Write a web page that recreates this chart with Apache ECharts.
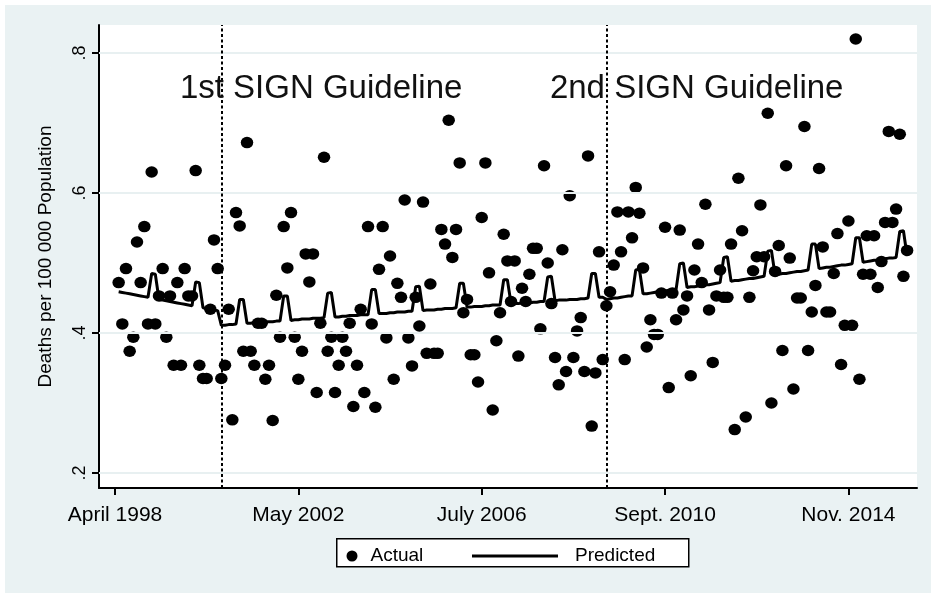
<!DOCTYPE html>
<html>
<head>
<meta charset="utf-8">
<script src="https://cdn.jsdelivr.net/npm/echarts@6/dist/echarts.min.js"></script>
<style>
  html, body { margin: 0; padding: 0; background: #ffffff; }
  #frame { position: absolute; left: 0; top: 0; width: 936px; height: 598px; background: #ffffff; }
  #chart { position: absolute; left: 5px; top: 5px; width: 926px; height: 588px; }
</style>
</head>
<body>
<div id="frame"><div id="chart"></div></div>
<script>
// Monthly suicide-death rate (deaths per 100 000), months numbered from 1
const actual = [
  .472,.413,.492,.374,.394,.530,.472,.552,.413,.630,
  .413,.453,.492,.394,.453,.354,.472,.354,.492,.453,
  .453,.632,.354,.335,.335,.434,.533,.492,.335,.354,
  .434,.276,.572,.553,.374,.672,.374,.354,.414,.414,
  .334,.354,.275,.454,.394,.552,.493,.572,.394,.334,
  .374,.513,.473,.513,.315,.414,.651,.374,.394,.315,
  .354,.394,.374,.414,.295,.354,.434,.315,.552,.413,
  .294,.491,.552,.393,.510,.334,.471,.451,.590,.393,
  .353,.451,.410,.587,.371,.470,.371,.371,.548,.527,
  .704,.508,.548,.643,.429,.448,.369,.369,.330,.565,
  .643,.486,.290,.389,.429,.541,.503,.445,.503,.367,
  .464,.445,.484,.521,.521,.406,.639,.500,.442,.365,
  .326,.519,.345,.596,.365,.403,.422,.345,.653,.267,
  .343,.516,.362,.439,.459,.497,.573,.516,.362,.573,
  .536,.608,.571,.493,.380,.419,.398,.398,.457,.551,
  .322,.457,.419,.547,.433,.453,.339,.490,.527,.472,
  .584,.433,.358,.453,.490,.451,.451,.527,.262,.621,
  .546,.280,.451,.489,.509,.583,.509,.714,.300,.488,
  .525,.375,.639,.507,.320,.450,.450,.695,.375,.430,
  .468,.635,.523,.430,.430,.485,.542,.355,.411,.560,
  .411,.820,.334,.484,.539,.484,.539,.465,.502,.558,
  .688,.558,.577,.684,.481,.518
];

// Model fit for the same months
const predicted = [
  .459,.458,.457,.456,.455,.454,.453,.452,.451,.485,
  .484,.448,.447,.446,.445,.444,.443,.442,.441,.440,
  .439,.473,.472,.436,.435,.434,.433,.432,.411,.411,
  .412,.412,.413,.448,.448,.414,.414,.415,.415,.415,
  .416,.416,.416,.417,.417,.453,.453,.418,.419,.419,
  .420,.420,.420,.421,.421,.421,.422,.457,.458,.423,
  .423,.424,.424,.425,.425,.425,.426,.426,.426,.462,
  .462,.428,.428,.428,.429,.429,.430,.430,.430,.431,
  .431,.466,.467,.432,.433,.433,.433,.434,.434,.435,
  .435,.435,.436,.471,.471,.437,.437,.438,.438,.438,
  .439,.439,.440,.440,.440,.476,.476,.442,.442,.442,
  .443,.443,.443,.444,.444,.445,.445,.480,.481,.446,
  .447,.447,.447,.448,.448,.448,.449,.449,.450,.485,
  .485,.451,.451,.448,.449,.450,.450,.451,.452,.453,
  .453,.490,.491,.456,.456,.457,.458,.459,.459,.460,
  .461,.462,.462,.499,.500,.465,.466,.466,.467,.468,
  .469,.469,.470,.471,.472,.508,.509,.474,.475,.475,
  .476,.477,.478,.478,.479,.480,.481,.517,.518,.483,
  .484,.485,.485,.486,.487,.488,.488,.489,.490,.527,
  .527,.492,.493,.494,.494,.495,.496,.497,.497,.498,
  .499,.536,.536,.501,.502,.503,.504,.504,.505,.506,
  .507,.507,.508,.545,.546,.510
];

const tickMonths = [0, 50, 100, 150, 200];
const tickLabels = ['April 1998', 'May 2002', 'July 2006', 'Sept. 2010', 'Nov. 2014'];
const yTicks = [0.2, 0.4, 0.6, 0.8];
const guidelineMonths = [29, 134];
const guidelineNames = ['1st SIGN Guideline', '2nd SIGN Guideline'];

const FONT = "'Liberation Sans', Arial, Helvetica, sans-serif";
const GRID_COLOR = '#E8F0F1';

const actualPoints = actual.map((v, i) => [i + 1, v]);
const predictedPoints = predicted.map((v, i) => [i + 1, v]);

const chart = echarts.init(document.getElementById('chart'), null, { renderer: 'canvas' });

const option = {
  animation: false,
  backgroundColor: '#EAF2F3',
  textStyle: { fontFamily: FONT },
  grid: {
    show: true, backgroundColor: '#ffffff', borderWidth: 0,
    left: 94, right: 14, top: 20, bottom: 105
  },
  xAxis: {
    type: 'value', min: -4.36, max: 218.7,
    axisLine: { show: true, onZero: false, lineStyle: { color: '#000', width: 2 } },
    axisTick: { show: true, customValues: tickMonths, length: 7, lineStyle: { color: '#000', width: 2 } },
    axisLabel: {
      customValues: tickMonths, color: '#000', fontSize: 21, fontFamily: FONT, margin: 17,
      formatter: v => tickLabels[tickMonths.indexOf(v)]
    },
    splitLine: { show: false }
  },
  yAxis: {
    type: 'value', min: 0.1786, max: 0.84,
    name: 'Deaths per 100 000 Population', nameLocation: 'middle', nameRotate: 90, nameGap: 44,
    nameTextStyle: { color: '#000', fontSize: 19, fontFamily: FONT },
    axisLine: { show: true, onZero: false, lineStyle: { color: '#000', width: 2 } },
    axisTick: { show: true, customValues: yTicks, length: 7, lineStyle: { color: '#000', width: 2 } },
    axisLabel: {
      customValues: yTicks, rotate: 90, color: '#000', fontSize: 18, fontFamily: FONT, margin: 10,
      formatter: v => String(v).replace(/^0\./, '.')
    },
    splitLine: { show: false }
  },
  legend: [
    {
      data: [{ name: 'Actual', icon: 'circle' }],
      left: 341.5, top: 541.5, padding: 0,
      itemWidth: 11, itemHeight: 11,
      textStyle: { color: '#000', fontSize: 19, fontFamily: FONT, padding: [0, 0, 0, 8] },
      selectedMode: false
    },
    {
      data: [{ name: 'Predicted', icon: 'path://M0,0 L86,0 L86,3 L0,3 Z' }],
      left: 467, top: 541.5, padding: 0,
      itemWidth: 86, itemHeight: 11, symbolKeepAspect: true,
      textStyle: { color: '#000', fontSize: 19, fontFamily: FONT, padding: [0, 0, 0, 12] },
      selectedMode: false
    }
  ],
  graphic: [
    {
      type: 'rect', left: 331, top: 533, z: -1,
      shape: { width: 352, height: 28 },
      style: { fill: '#ffffff', stroke: '#000', lineWidth: 1.5 }
    }
  ],
  series: [
    {
      // reference lines: y grid and guideline dates, with their captions
      name: 'guides', type: 'line', data: [], z: 1, silent: true,
      markLine: {
        silent: true, symbol: ['none', 'none'], animation: false,
        label: { show: false },
        data: [
          ...yTicks.map(v => ({ yAxis: v, lineStyle: { color: GRID_COLOR, width: 2, type: 'solid' } })),
          ...guidelineMonths.map(m => ({ xAxis: m, lineStyle: { color: '#000', width: 2, type: [3, 2.5] } }))
        ]
      },
      markPoint: {
        silent: true, symbol: 'circle', symbolSize: 0, animation: false,
        label: {
          show: true, position: 'inside', align: 'left', verticalAlign: 'middle',
          color: '#111', fontSize: 33, fontFamily: FONT, formatter: p => p.name
        },
        data: [
          { name: guidelineNames[0], coord: [guidelineMonths[0] - 11.3, 0.748] },
          { name: guidelineNames[1], coord: [guidelineMonths[1] - 15.4, 0.748] }
        ]
      }
    },
    {
      name: 'Actual', type: 'scatter', z: 2,
      symbol: 'circle', symbolSize: [12.5, 11.5],
      itemStyle: { color: '#000', opacity: 1 },
      data: actualPoints
    },
    {
      name: 'Predicted', type: 'line', z: 3,
      symbol: 'none', showSymbol: false,
      lineStyle: { color: '#000', width: 3 },
      itemStyle: { color: '#000' },
      data: predictedPoints
    }
  ]
};

chart.setOption(option);
</script>
</body>
</html>
